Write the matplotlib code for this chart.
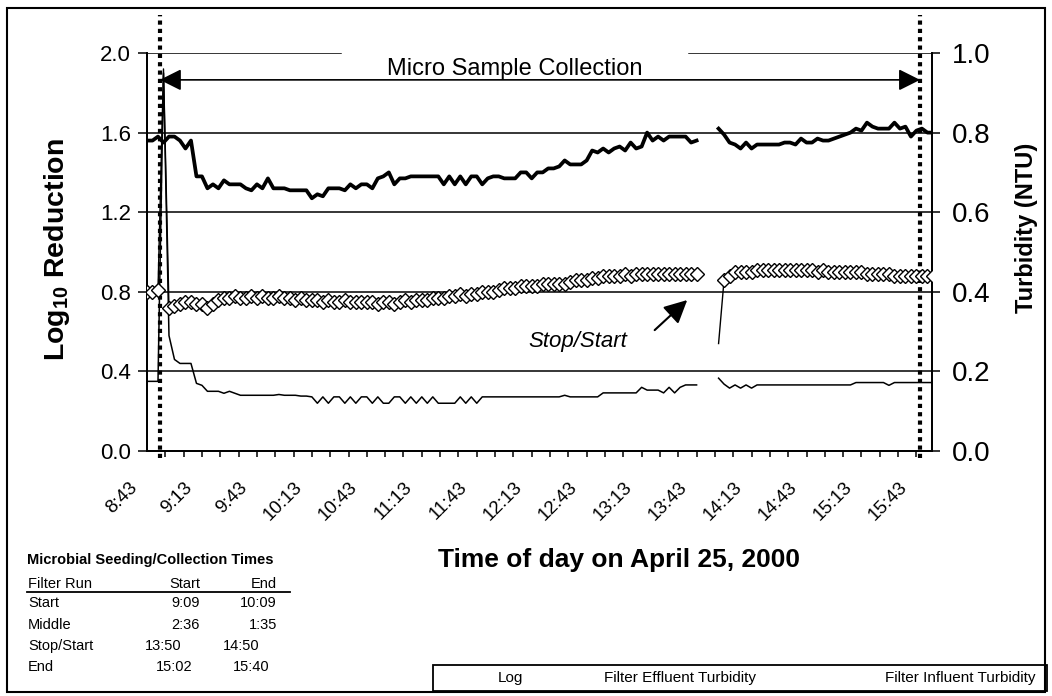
import numpy as np
import matplotlib.pyplot as plt
from matplotlib.patches import Rectangle
from matplotlib.lines import Line2D

plt.rcParams['font.family'] = ['Liberation Sans', 'DejaVu Sans']
plt.rcParams['mathtext.fontset'] = 'custom'
plt.rcParams['mathtext.rm'] = 'Liberation Sans'
plt.rcParams['mathtext.bf'] = 'Liberation Sans:bold'

# ============================
# Data (read off the chart), logged every 3 minutes from 8:53
# ============================
start_time = '8:53'
step_min = 3
nan = np.nan

log_reduction = [
    1.56, 1.56, 1.58, 1.55, 1.58, 1.58, 1.56, 1.52, 1.56, 1.38,
    1.38, 1.32, 1.34, 1.32, 1.36, 1.34, 1.34, 1.34, 1.32, 1.31,
    1.34, 1.32, 1.37, 1.32, 1.32, 1.32, 1.31, 1.31, 1.31, 1.31,
    1.27, 1.29, 1.28, 1.32, 1.32, 1.32, 1.31, 1.34, 1.32, 1.34,
    1.34, 1.32, 1.37, 1.38, 1.40, 1.34, 1.37, 1.37, 1.38, 1.38,
    1.38, 1.38, 1.38, 1.38, 1.34, 1.38, 1.34, 1.38, 1.34, 1.38,
    1.38, 1.34, 1.37, 1.38, 1.38, 1.37, 1.37, 1.37, 1.40, 1.40,
    1.37, 1.40, 1.40, 1.42, 1.42, 1.43, 1.46, 1.44, 1.44, 1.44,
    1.46, 1.51, 1.50, 1.52, 1.50, 1.52, 1.53, 1.51, 1.55, 1.52,
    1.53, 1.60, 1.56, 1.58, 1.56, 1.58, 1.58, 1.58, 1.58, 1.55,
    1.56, nan, nan, nan, 1.62, 1.59, 1.55, 1.54, 1.52, 1.55,
    1.52, 1.54, 1.54, 1.54, 1.54, 1.54, 1.55, 1.55, 1.54, 1.57,
    1.55, 1.55, 1.57, 1.56, 1.56, 1.57, 1.58, 1.59, 1.60, 1.62,
    1.61, 1.65, 1.63, 1.62, 1.62, 1.62, 1.65, 1.62, 1.63, 1.58,
    1.61, 1.62, 1.60, 1.60,
]

effluent_ntu = [
    0.175, 0.175, 0.175, 0.95, 0.29, 0.23, 0.22, 0.22, 0.22, 0.17,
    0.165, 0.15, 0.15, 0.15, 0.145, 0.15, 0.145, 0.14, 0.14, 0.14,
    0.14, 0.14, 0.14, 0.14, 0.142, 0.14, 0.14, 0.14, 0.138, 0.138,
    0.136, 0.12, 0.136, 0.12, 0.136, 0.136, 0.12, 0.136, 0.12, 0.136,
    0.136, 0.12, 0.136, 0.12, 0.12, 0.136, 0.136, 0.12, 0.136, 0.12,
    0.136, 0.12, 0.136, 0.12, 0.12, 0.12, 0.12, 0.136, 0.12, 0.136,
    0.12, 0.136, 0.136, 0.136, 0.136, 0.136, 0.136, 0.136, 0.136, 0.136,
    0.136, 0.136, 0.136, 0.136, 0.136, 0.136, 0.14, 0.136, 0.136, 0.136,
    0.136, 0.136, 0.136, 0.146, 0.146, 0.146, 0.146, 0.146, 0.146, 0.146,
    0.16, 0.153, 0.153, 0.153, 0.146, 0.16, 0.146, 0.16, 0.166, 0.166,
    0.166, nan, nan, nan, 0.183, 0.168, 0.158, 0.166, 0.158, 0.166,
    0.158, 0.166, 0.166, 0.166, 0.166, 0.166, 0.166, 0.166, 0.166, 0.166,
    0.166, 0.166, 0.166, 0.166, 0.166, 0.166, 0.166, 0.166, 0.166, 0.172,
    0.172, 0.172, 0.172, 0.172, 0.172, 0.165, 0.172, 0.172, 0.172, 0.172,
    0.172, 0.172, 0.172, 0.172,
]

influent_ntu = [
    0.40, 0.40, 0.405, 0.96, 0.36, 0.365, 0.37, 0.375, 0.375, 0.37,
    0.37, 0.36, 0.37, 0.38, 0.385, 0.385, 0.39, 0.385, 0.385, 0.39,
    0.385, 0.39, 0.385, 0.385, 0.39, 0.385, 0.385, 0.38, 0.385, 0.38,
    0.38, 0.38, 0.375, 0.38, 0.375, 0.375, 0.38, 0.375, 0.375, 0.375,
    0.375, 0.375, 0.37, 0.375, 0.375, 0.37, 0.375, 0.38, 0.375, 0.38,
    0.38, 0.38, 0.385, 0.385, 0.385, 0.39, 0.39, 0.395, 0.39, 0.395,
    0.395, 0.40, 0.40, 0.40, 0.405, 0.41, 0.41, 0.41, 0.415, 0.415,
    0.415, 0.415, 0.42, 0.42, 0.42, 0.42, 0.42, 0.425, 0.43, 0.43,
    0.43, 0.435, 0.435, 0.44, 0.44, 0.44, 0.44, 0.445, 0.44, 0.445,
    0.445, 0.445, 0.445, 0.445, 0.445, 0.445, 0.445, 0.445, 0.445, 0.445,
    0.445, nan, nan, nan, 0.27, 0.43, 0.44, 0.45, 0.45, 0.45,
    0.45, 0.455, 0.455, 0.455, 0.455, 0.455, 0.455, 0.455, 0.455, 0.455,
    0.455, 0.455, 0.45, 0.455, 0.45, 0.45, 0.45, 0.45, 0.45, 0.45,
    0.45, 0.445, 0.445, 0.445, 0.445, 0.445, 0.44, 0.44, 0.44, 0.44,
    0.44, 0.44, 0.44, 0.44,
]

time_labels = ['8:43', '9:13', '9:43', '10:13', '10:43', '11:13', '11:43',
               '12:13', '12:43', '13:13', '13:43', '14:13', '14:43',
               '15:13', '15:43']
collection_start = '9:00'
collection_end = '15:55'

table_header = ['Filter Run', 'Start', 'End']
table_rows = [['Start', '9:09', '10:09'],
              ['Middle', '2:36', '1:35'],
              ['Stop/Start', '13:50', '14:50'],
              ['End', '15:02', '15:40']]

legend_labels = ['Log', 'Filter Effluent Turbidity', 'Filter Influent Turbidity']


def to_min(s):
    h, m = s.split(':')
    return int(h) * 60 + int(m)


times = to_min(start_time) + step_min * np.arange(len(log_reduction))
influent = np.array(influent_ntu)
steady = (influent > 0.3) & (influent < 0.6)

# ============================
# Figure and axes
# ============================
W, H = 1052, 696
fig = plt.figure(figsize=(W / 100, H / 100), dpi=100)
ax = fig.add_axes([147 / W, 1 - 451 / H, 785 / W, 398 / H])
ax2 = ax.twinx()

ax.set_xlim(533, 961.5)
ax.set_ylim(0, 2.0)
ax2.set_ylim(0, 1.0)

# horizontal grid lines (top one is interrupted)
for v in [0.4, 0.8, 1.2, 1.6]:
    ax.axhline(v, color='black', lw=1.1, zorder=1)
ax.axhline(2.0, xmax=0.247, color='black', lw=1.1)
ax.axhline(2.0, xmin=0.69, color='black', lw=1.1)

# series
ax.plot(times, log_reduction, color='black', lw=2.7, zorder=3)
ax2.plot(times, effluent_ntu, color='black', lw=1.1, zorder=3)
ax2.plot(times, influent_ntu, color='black', lw=1.0, marker='D', ms=7,
         mfc='white', mec='black', mew=1.0, markevery=list(steady), zorder=4)

# spines and ticks
for a in (ax, ax2):
    a.spines['top'].set_visible(False)
    for s in ('left', 'right', 'bottom'):
        a.spines[s].set_linewidth(1.3)

ax.set_yticks(np.arange(0, 2.01, 0.4))
ax.set_yticklabels([f'{v:.1f}' for v in np.arange(0, 2.01, 0.4)], fontsize=16)
ax.tick_params(axis='y', direction='out', length=6.5, width=1.1, pad=5)
ax2.set_yticks(np.arange(0, 1.01, 0.2))
ax2.set_yticklabels([f'{v:.1f}' for v in np.arange(0, 1.01, 0.2)], fontsize=20)
ax2.tick_params(axis='y', direction='out', length=6, width=1.1, pad=8)

ax.set_xticks(np.arange(543, 962, 10))
ax.set_xticklabels([])
ax.tick_params(axis='x', direction='out', length=4, width=1.1)

for lbl in time_labels:
    ax.text(to_min(lbl), -0.07, lbl, transform=ax.get_xaxis_transform(),
            rotation=45, ha='right', va='top', rotation_mode='anchor',
            fontsize=13.5, clip_on=False)

# collection window markers
for t in (collection_start, collection_end):
    ax.plot([to_min(t)] * 2, [-0.018, 1.095], transform=ax.get_xaxis_transform(),
            color='black', lw=3, linestyle=(0, (1, 1)), dash_capstyle='butt',
            clip_on=False, zorder=5)

ax.annotate('', xy=(to_min(collection_start), 1.865),
            xytext=(to_min(collection_end), 1.865),
            arrowprops=dict(arrowstyle='<|-|>,head_length=0.6,head_width=0.3',
                            mutation_scale=22, lw=1.2, color='black',
                            shrinkA=0, shrinkB=0))
ax.text(0.469, 0.96, 'Micro Sample Collection', transform=ax.transAxes,
        ha='center', va='center', fontsize=17)

ax2.text(768, 0.276, 'Stop/Start', style='italic', fontsize=16,
         ha='center', va='center')
ax2.annotate('', xy=(829, 0.384), xytext=(809, 0.299),
             arrowprops=dict(arrowstyle='-|>,head_length=0.7,head_width=0.35',
                             mutation_scale=20, lw=1.5, color='black'))

# axis titles
fig.text(57 / W, 1 - 250 / H, r'Log$_{\mathbf{10}}$ Reduction', rotation=90,
         ha='center', va='center', fontsize=20.5, fontweight='bold')
fig.text(1027 / W, 1 - 228 / H, 'Turbidity (NTU)', rotation=90,
         ha='center', va='center', fontsize=17, fontweight='bold')
fig.text(619 / W, 1 - 560 / H, 'Time of day on April 25, 2000',
         ha='center', va='center', fontsize=19, fontweight='bold')

# ============================
# Seeding / collection table
# ============================
fig.text(27 / W, 1 - 560 / H, 'Microbial Seeding/Collection Times',
         ha='left', va='center', fontsize=10.5, fontweight='bold')
col_x = [28, 200, 277]
row_y = [603, 625, 646, 667]
fig.text(col_x[0] / W, 1 - 584 / H, table_header[0], ha='left', va='center', fontsize=10.5)
fig.text(col_x[1] / W, 1 - 584 / H, table_header[1], ha='right', va='center', fontsize=10.5)
fig.text(col_x[2] / W, 1 - 584 / H, table_header[2], ha='right', va='center', fontsize=10.5)
fig.add_artist(Line2D([27 / W, 290 / W], [1 - 592 / H] * 2, color='black', lw=1.3))
shift = [0, 0, -18, -7]
for row, y, dx in zip(table_rows, row_y, shift):
    fig.text(col_x[0] / W, 1 - y / H, row[0], ha='left', va='center', fontsize=10.5)
    fig.text((col_x[1] + dx) / W, 1 - y / H, row[1], ha='right', va='center', fontsize=10.5)
    fig.text((col_x[2] + dx) / W, 1 - y / H, row[2], ha='right', va='center', fontsize=10.5)

# ============================
# Legend box and outer frame
# ============================
fig.add_artist(Rectangle((433 / W, 1 - 691 / H), 614 / W, 26 / H, fill=False,
                         lw=1.3, edgecolor='black', transform=fig.transFigure))
for lbl, cx in zip(legend_labels, [510, 680, 960]):
    fig.text(cx / W, 1 - 678 / H, lbl, ha='center', va='center', fontsize=11)

fig.add_artist(Rectangle((7 / W, 1 - 692 / H), 1038 / W, 684 / H, fill=False,
                         lw=1.5, edgecolor='black', transform=fig.transFigure))

fig.savefig('out.png', dpi=100)
